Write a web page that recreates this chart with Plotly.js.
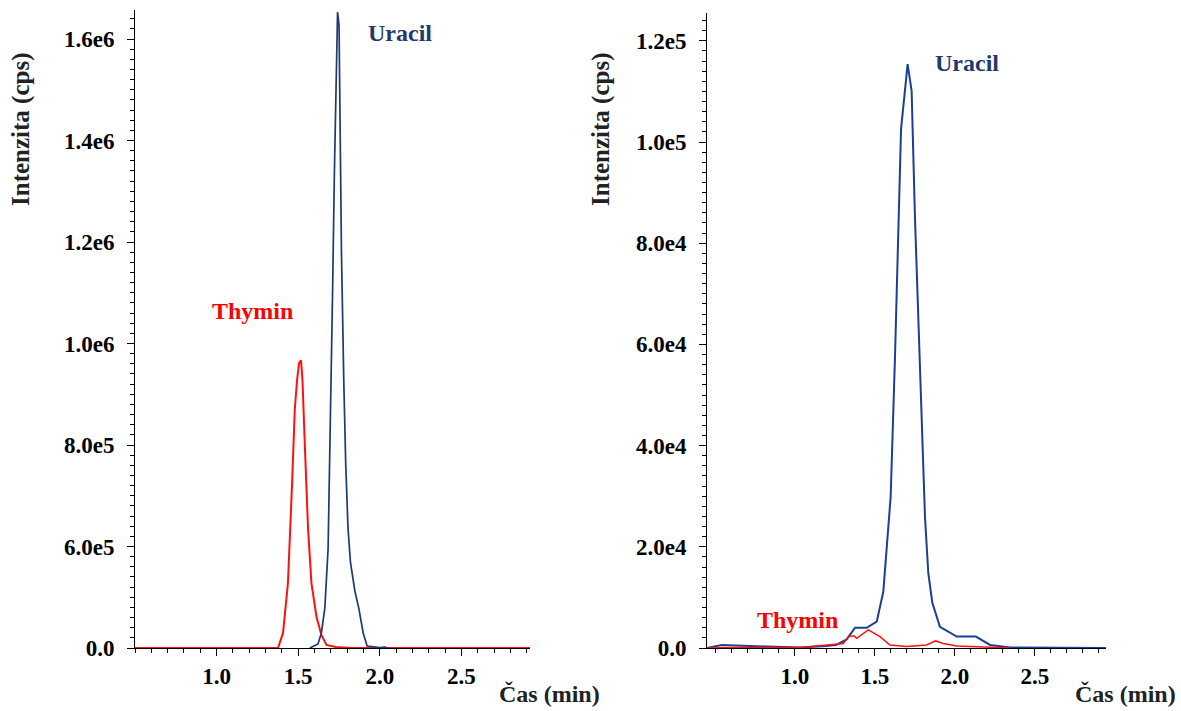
<!DOCTYPE html>
<html>
<head>
<meta charset="utf-8">
<script src="https://cdn.plot.ly/plotly-3.0.1.min.js"></script>
<style>html,body{margin:0;padding:0;background:#fff;}#chart{width:1181px;height:711px;}</style>
</head>
<body>
<div id="chart"></div>
<script>
// ---------- Left panel (axis labelled with a break: 0.0 then 6.0e5 ...) ----------
const leftUracilTime = [1.571, 1.621, 1.642, 1.663, 1.683, 1.698, 1.710, 1.722, 1.732, 1.741, 1.750, 1.755, 1.765, 1.779, 1.791, 1.805, 1.820, 1.847, 1.871, 1.898, 1.922, 2.000, 2.030, 2.050];
const leftUracilValue = [0, 24000, 89000, 236000, 585000, 845000, 1093000, 1344000, 1552000, 1653000, 1627000, 1427000, 1178000, 928000, 763000, 636000, 508000, 337000, 236000, 89000, 12000, 3000, 5000, 0];
const leftThyminTime = [0.50, 1.376, 1.407, 1.437, 1.462, 1.479, 1.493, 1.505, 1.517, 1.526, 1.540, 1.560, 1.581, 1.612, 1.642, 1.673, 1.730, 1.830, 2.92];
const leftThyminValue = [0, 0, 89000, 384000, 721000, 871000, 928000, 961000, 967000, 928000, 804000, 636000, 384000, 183000, 77000, 18000, 6000, 0, 0];
const leftTickValues = [0, 600000, 800000, 1000000, 1200000, 1400000, 1600000];
const leftTickText = ["0.0", "6.0e5", "8.0e5", "1.0e6", "1.2e6", "1.4e6", "1.6e6"];

// ---------- Right panel ----------
const rightUracilTime = [0.45, 0.542, 0.823, 1.031, 1.198, 1.261, 1.323, 1.375, 1.448, 1.511, 1.552, 1.598, 1.625, 1.646, 1.663, 1.704, 1.729, 1.750, 1.781, 1.8125, 1.833, 1.858, 1.906, 2.011, 2.131, 2.219, 2.344, 2.944];
const rightUracilValue = [0, 600, 300, 100, 400, 650, 1700, 4000, 4000, 5200, 11100, 29900, 57400, 85700, 102600, 115400, 110100, 85000, 53500, 25900, 14900, 9000, 4200, 2250, 2250, 600, 100, 0];
const rightThyminTime = [0.45, 0.6125, 1.031, 1.2375, 1.302, 1.333, 1.369, 1.386, 1.458, 1.531, 1.594, 1.698, 1.823, 1.879, 1.927, 2.011, 2.136, 2.344];
const rightThyminValue = [0, 100, 100, 600, 900, 2200, 2400, 1900, 3600, 2250, 600, 300, 600, 1400, 900, 400, 250, 0];
const rightTickValues = [0, 20000, 40000, 60000, 80000, 100000, 120000];
const rightTickText = ["0.0", "2.0e4", "4.0e4", "6.0e4", "8.0e4", "1.0e5", "1.2e5"];

const xTickValues = [1.0, 1.5, 2.0, 2.5];
const xTickText = ["1.0", "1.5", "2.0", "2.5"];

const axisTitleY = "Intenzita (cps)";
const axisTitleX = "Čas (min)";
const nameUracil = "Uracil";
const nameThymin = "Thymin";

// broken left axis: 0..6e5 is drawn in the space of one 2e5 interval
const BREAK = 600000;
function leftScale(v) { return v >= BREAK ? v : (BREAK - 200000) + v / 3; }

const W = 1181, H = 711;
const px = x => x / W;
const py = y => 1 - y / H;

const FONT = "Liberation Serif, Times New Roman, serif";
const NAVY = "#1f3a6e";
const BLUE = "#1a3f96";
const RED = "#ff1010";

const traces = [
  { x: leftThyminTime, y: leftThyminValue.map(leftScale), xaxis: "x", yaxis: "y", mode: "lines", line: { color: RED, width: 2 }, name: nameThymin },
  { x: leftUracilTime, y: leftUracilValue.map(leftScale), xaxis: "x", yaxis: "y", mode: "lines", line: { color: NAVY, width: 1.7 }, name: nameUracil },
  { x: rightUracilTime, y: rightUracilValue, xaxis: "x2", yaxis: "y2", mode: "lines", line: { color: BLUE, width: 2 }, name: nameUracil },
  { x: rightThyminTime, y: rightThyminValue, xaxis: "x2", yaxis: "y2", mode: "lines", line: { color: RED, width: 1.5 }, name: nameThymin }
];

const tickFont = { family: FONT, size: 23, color: "#000", weight: "bold" };
function xAxis(domain, range, anchor) {
  return {
    domain: domain, range: range, anchor: anchor,
    showgrid: false, zeroline: false, showline: true, linecolor: "#000", linewidth: 1,
    ticks: "outside", ticklen: 7, tickwidth: 1, tickcolor: "#000",
    tickmode: "array", tickvals: xTickValues, ticktext: xTickText,
    tickfont: tickFont, ticklabelstandoff: 0,
    minor: { tickmode: "linear", tick0: 0, dtick: 0.1, ticks: "outside", ticklen: 4, tickcolor: "#000", tickwidth: 1, showgrid: false }
  };
}
function yAxis(domain, range, anchor, tv, tt, minorStep) {
  return {
    domain: domain, range: range, anchor: anchor,
    showgrid: false, zeroline: false, showline: true, linecolor: "#000", linewidth: 1,
    ticks: "outside", ticklen: 7, tickwidth: 1, tickcolor: "#000",
    tickmode: "array", tickvals: tv, ticktext: tt,
    tickfont: tickFont, ticklabelstandoff: 8,
    minor: { tickmode: "linear", tick0: 0, dtick: minorStep, ticks: "outside", ticklen: 4, tickcolor: "#000", tickwidth: 1, showgrid: false }
  };
}

const leftTop = 10, rightTop = 13, bottom = 648;
const leftRangeTop = 400000 + (bottom - leftTop) * (200000 / 101.5);
const rightRangeTop = (bottom - rightTop) * (20000 / 101.2);

function label(text, x, y, size, color, angle) {
  return { text: text, xref: "paper", yref: "paper", x: px(x), y: py(y), xanchor: "center", yanchor: "middle",
           textangle: angle || 0, showarrow: false, font: { family: FONT, size: size, color: color, weight: "bold" } };
}

const layout = {
  width: W, height: H,
  margin: { l: 0, r: 0, t: 0, b: 0 },
  paper_bgcolor: "#fff", plot_bgcolor: "#fff",
  showlegend: false,
  xaxis: xAxis([px(135), px(530)], [0.5, 2.92], "y"),
  yaxis: yAxis([py(bottom), py(leftTop)], [400000, leftRangeTop], "x", leftTickValues.map(leftScale), leftTickText, 20000),
  xaxis2: xAxis([px(707), px(1106)], [0.45, 2.944], "y2"),
  yaxis2: yAxis([py(bottom), py(rightTop)], [0, rightRangeTop], "x2", rightTickValues, rightTickText, 2000),
  annotations: [
    label(axisTitleY, 21, 130, 25, "#222", -90),
    label(axisTitleY, 601, 130, 25, "#222", -90),
    label(axisTitleX, 549, 694, 24, "#222"),
    label(axisTitleX, 1125, 694, 24, "#222"),
    label(nameUracil, 400, 33, 24, NAVY),
    label(nameThymin, 252, 311, 24, "#ff0000"),
    label(nameUracil, 967, 63, 24, NAVY),
    label(nameThymin, 797, 620, 24, "#ff0000")
  ]
};

Plotly.newPlot("chart", traces, layout, { staticPlot: true, displayModeBar: false });
</script>
</body>
</html>
